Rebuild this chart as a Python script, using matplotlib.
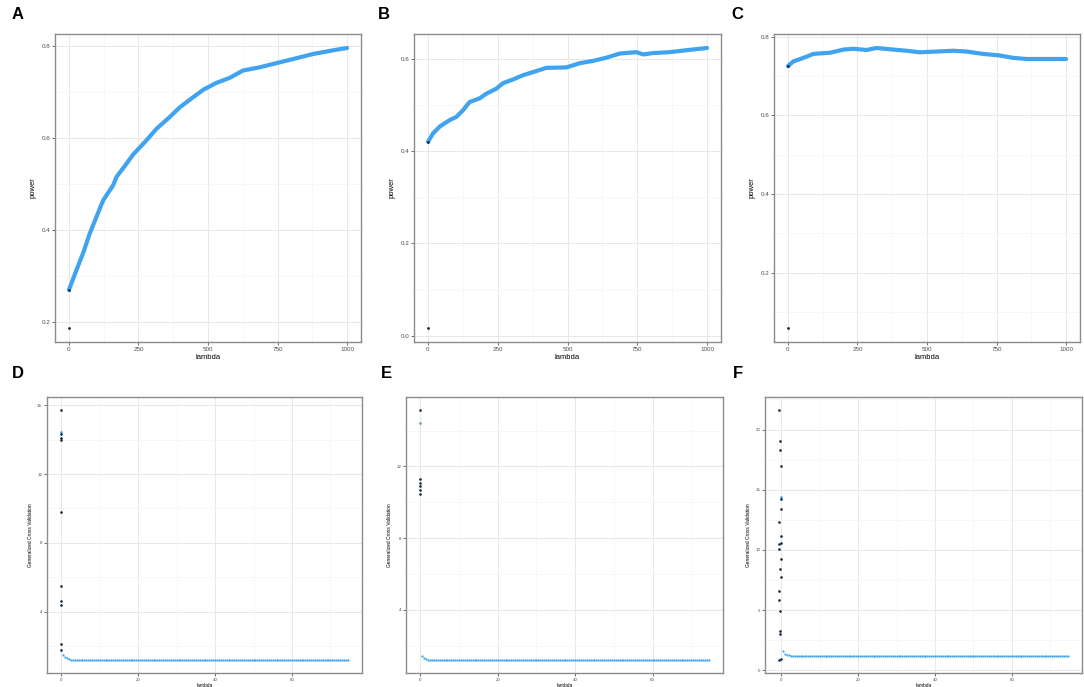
import numpy as np
import matplotlib
matplotlib.use("Agg")
import matplotlib.pyplot as plt
from matplotlib.ticker import FixedLocator

plt.rcParams['font.family'] = ['Liberation Sans', 'DejaVu Sans']

BLUE = '#3fa3ef'
DARK = '#132b43'

# ---------------- data ----------------
# Panel A
a_lambda = [0, 27, 51, 75, 99, 123, 159, 171, 207, 231, 279, 315, 363, 399, 447,
            483, 530, 578, 626, 686, 746, 806, 878, 950, 1000]
a_power = [0.269, 0.312, 0.349, 0.392, 0.428, 0.464, 0.497, 0.515, 0.544, 0.564,
           0.595, 0.620, 0.646, 0.667, 0.689, 0.705, 0.720, 0.731, 0.747, 0.754,
           0.763, 0.772, 0.783, 0.791, 0.796]
a_dark = [0.186, 0.269]
# Panel B
b_lambda = [0, 18, 42, 78, 102, 125, 149, 185, 209, 245, 269, 305, 340, 388, 424,
            496, 543, 591, 639, 687, 747, 771, 806, 866, 938, 1000]
b_power = [0.420, 0.438, 0.453, 0.467, 0.474, 0.488, 0.506, 0.514, 0.524, 0.535,
           0.547, 0.555, 0.564, 0.573, 0.580, 0.581, 0.590, 0.595, 0.602, 0.611,
           0.614, 0.609, 0.612, 0.614, 0.619, 0.623]
b_dark = [0.017, 0.420]
# Panel C
c_lambda = [0, 20, 56, 92, 152, 200, 235, 283, 319, 379, 427, 474, 534, 594, 642,
            701, 761, 809, 857, 916, 1000]
c_power = [0.725, 0.737, 0.746, 0.756, 0.759, 0.767, 0.769, 0.766, 0.771, 0.767,
           0.764, 0.760, 0.762, 0.764, 0.762, 0.756, 0.752, 0.746, 0.743, 0.743,
           0.743]
c_dark = [0.059, 0.725]

# Panels D-F: lambda grid of the GCV search
gcv_lambda = np.arange(0.5, 75.0, 0.5)
n_tail = len(gcv_lambda)

# Panel D
d_dark_x = [0] * 10
d_dark_y = [15.75, 14.3, 14.07, 14.0, 9.8, 5.49, 4.62, 4.41, 2.14, 1.80]
d_blue0 = 14.45
d_head = [1.49, 1.35, 1.29, 1.25, 1.22, 1.20, 1.19, 1.18]
d_plateau = 1.17
# Panel E
e_dark_x = [0] * 6
e_dark_y = [15.17, 11.30, 11.07, 10.89, 10.67, 10.48]
e_blue0 = 14.44
e_head = [1.44, 1.30, 1.24, 1.21, 1.19, 1.18]
e_plateau = 1.17
# Panel F
f_dark_x = [-0.5, -0.26, -0.26, 0, 0, 0, -0.5, 0, 0, -0.5, -0.5, -0.2, -0.26, 0,
            -0.5, -0.5, -0.26, -0.4, -0.4, -0.5, -0.1]
f_dark_y = [21.66, 19.03, 18.29, 16.97, 14.21, 13.38, 12.36, 11.17, 10.62, 10.51,
            10.12, 9.24, 8.41, 7.72, 6.62, 5.85, 4.97, 3.31, 3.03, 0.83, 0.91]
f_blue0 = 14.43
f_head = [1.63, 1.40, 1.30, 1.25, 1.23, 1.22]
f_plateau = 1.21

W, H = 1084, 687
fig = plt.figure(figsize=(W / 100, H / 100), dpi=100)


def make_ax(l, r, t, b):
    return fig.add_axes([l / W, 1 - b / H, (r - l) / W, (b - t) / H])


def style(ax, xmaj, xmin, ymaj, ymin, ylabels, tick_fs, ylab, lab_fs, lpad):
    ax.set_facecolor('white')
    ax.xaxis.set_major_locator(FixedLocator(xmaj))
    ax.xaxis.set_minor_locator(FixedLocator(xmin))
    ax.yaxis.set_major_locator(FixedLocator(ymaj))
    ax.yaxis.set_minor_locator(FixedLocator(ymin))
    ax.set_yticklabels(ylabels)
    ax.set_xticklabels([str(v) for v in xmaj])
    ax.grid(which='major', color='#e8e8e8', lw=0.7, zorder=0)
    ax.grid(which='minor', color='#f3f3f3', lw=0.45, zorder=0)
    ax.set_axisbelow(True)
    for s in ax.spines.values():
        s.set_color('#8c8c8c')
        s.set_linewidth(1.0)
    ax.tick_params(which='major', length=2, width=0.5, color='#333333',
                   labelsize=tick_fs, labelcolor='#4d4d4d', pad=1.5)
    ax.tick_params(which='minor', length=0)
    ax.set_xlabel('lambda', fontsize=lab_fs, labelpad=lpad)
    ax.set_ylabel(ylab, fontsize=lab_fs, labelpad=lpad + 2)


def top_panel(ax, lam, pw, dark, ymaj, ymin, ylabels):
    ax.plot(lam, pw, color=BLUE, lw=3.0, solid_capstyle='round',
            solid_joinstyle='round', zorder=3)
    ax.plot([0, 0], dark, 'o', color=DARK, ms=2.0, mew=0, zorder=4)
    ax.margins(x=0.05, y=0.05)
    style(ax, [0, 250, 500, 750, 1000], [125, 375, 625, 875], ymaj, ymin,
          ylabels, 4.5, 'power', 5.5, 1.5)


def bottom_panel(ax, dx, dy, b0, head, plateau, ymaj, ymin, ylabels):
    vals = list(head) + [plateau] * (n_tail - len(head))
    ax.plot(gcv_lambda, vals, 'o', color=BLUE, ms=1.6, mew=0, zorder=3)
    ax.plot([0], [b0], 'o', color=BLUE, ms=1.9, mew=0, zorder=3)
    ax.plot(dx, dy, 'o', color=DARK, ms=1.9, mew=0, zorder=4)
    ax.margins(x=0.05, y=0.05)
    style(ax, [0, 20, 40, 60], [10, 30, 50, 70], ymaj, ymin, ylabels, 3.2,
          'Generalized Cross Validation', 3.5, 1.0)


axA = make_ax(55, 361, 34, 342)
top_panel(axA, a_lambda, a_power, a_dark, [0.2, 0.4, 0.6, 0.8], [0.3, 0.5, 0.7],
          ['0.2', '0.4', '0.6', '0.8'])
axB = make_ax(414, 721, 34, 342)
top_panel(axB, b_lambda, b_power, b_dark, [0.0, 0.2, 0.4, 0.6], [0.1, 0.3, 0.5],
          ['0.0', '0.2', '0.4', '0.6'])
axC = make_ax(774, 1080, 34, 342)
top_panel(axC, c_lambda, c_power, c_dark, [0.2, 0.4, 0.6, 0.8], [0.1, 0.3, 0.5, 0.7],
          ['0.2', '0.4', '0.6', '0.8'])

axD = make_ax(47, 362, 397, 673)
bottom_panel(axD, d_dark_x, d_dark_y, d_blue0, d_head, d_plateau,
             [4, 8, 12, 16], [2, 6, 10, 14], ['4', '8', '12', '16'])
axE = make_ax(406, 723, 397, 673)
bottom_panel(axE, e_dark_x, e_dark_y, e_blue0, e_head, e_plateau,
             [4, 8, 12], [2, 6, 10, 14], ['4', '8', '12'])
axF = make_ax(765, 1082, 397, 673)
bottom_panel(axF, f_dark_x, f_dark_y, f_blue0, f_head, f_plateau,
             [0, 5, 10, 15, 20], [2.5, 7.5, 12.5, 17.5, 22.5],
             ['0', '5', '10', '15', '20'])

for lab, x, y in [('A', 12, 19), ('B', 378, 19), ('C', 731, 19),
                  ('D', 12, 378), ('E', 381, 378), ('F', 733, 378)]:
    fig.text(x / W, 1 - y / H, lab, fontsize=12, fontweight='bold',
             ha='left', va='baseline')

fig.savefig('out.png', dpi=100, facecolor='white')
